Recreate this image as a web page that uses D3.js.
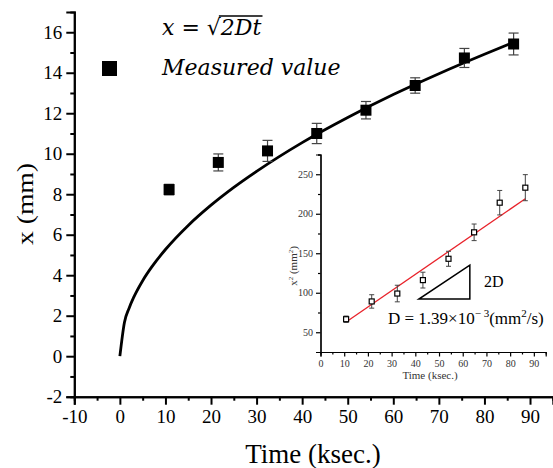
<!DOCTYPE html>
<html>
<head>
<meta charset="utf-8">
<script src="https://cdn.jsdelivr.net/npm/d3@7"></script>
<style>
  body { margin: 0; background: #fff; }
  svg { display: block; }
  .axis path, .axis line { stroke: #000; }
</style>
</head>
<body>
<script>
// measured depth, main plot (ksec, mm)
var times = [10.8, 21.6, 32.4, 43.2, 54.0, 64.8, 75.6, 86.4]
var depth = [8.23, 9.57, 10.14, 11.0, 12.15, 13.37, 14.73, 15.42]
var depthErr = [0.26, 0.42, 0.52, 0.5, 0.43, 0.38, 0.47, 0.54]

// x = sqrt(2Dt) curve
var curveT = [0, 1, 2, 3, 5, 7, 10, 15, 20, 25, 30, 40, 50, 60, 70, 80, 86.4]
var curveX = [0, 1.67, 2.36, 2.89, 3.73, 4.41, 5.27, 6.46, 7.46, 8.34, 9.13, 10.55, 11.79, 12.92, 13.95, 14.91, 15.5]

// inset: x^2 vs time
var sq = [66.5, 89, 99, 116, 143, 176.5, 214, 233]
var sqErr = [4, 8.5, 10.5, 10, 9.5, 10.5, 15.5, 16.5]
var fitT = [10.8, 86.4]
var fitY = [63, 219]
var triT = [41.5, 63, 63]
var triY = [92, 92, 135]

var xTicks = d3.range(-10, 91, 10)
var yTicks = d3.range(-2, 17, 2)
var inXTicks = d3.range(0, 91, 10)
var inYTicks = [50, 100, 150, 200, 250]

var SERIF = "'Liberation Serif'"
var W = 553, H = 468
var svg = d3.select('body').append('svg').attr('width', W).attr('height', H)

var x = d3.scaleLinear().domain([-10, 95]).range([74.3, 552.8])
  , y = d3.scaleLinear().domain([-2, 17]).range([396.7, 12])

function styleAxis(g, w, fs, col){
  g.selectAll('path').attr('stroke-width', w)
  g.selectAll('line').attr('stroke-width', w)
  g.selectAll('text').style('font-family', SERIF).style('font-size', fs + 'px').attr('fill', col)
}

// main axes
var gx = svg.append('g').attr('class', 'axis').attr('transform', 'translate(0,' + y(-2) + ')')
gx.call(d3.axisBottom(x).tickValues(d3.range(-5, 95, 10)).tickSize(4).tickFormat(''))
gx.append('g').call(d3.axisBottom(x).tickValues(xTicks).tickSize(8).tickPadding(5).tickFormat(String))
styleAxis(gx, 2, 19, '#000')

var gy = svg.append('g').attr('class', 'axis').attr('transform', 'translate(' + x(-10) + ',0)')
gy.call(d3.axisLeft(y).tickValues(d3.range(-1, 17, 2)).tickSize(4).tickFormat(''))
gy.append('g').call(d3.axisLeft(y).tickValues(yTicks).tickSize(8).tickPadding(4).tickFormat(String))
styleAxis(gy, 2, 19, '#000')

svg.append('text').attr('x', 313).attr('y', 463).attr('text-anchor', 'middle')
  .style('font-family', SERIF).style('font-size', '27px').text('Time (ksec.)')
svg.append('text').attr('transform', 'translate(33,204) rotate(-90)').attr('text-anchor', 'middle')
  .style('font-family', SERIF).style('font-size', '23px')
  .attr('textLength', 82).attr('lengthAdjust', 'spacingAndGlyphs').text('x (mm)')

// curve
var curvePts = curveT.map(function(t, i){ return [t, curveX[i]] })
svg.append('path').datum(curvePts)
  .attr('fill', 'none').attr('stroke', '#000').attr('stroke-width', 2.8)
  .attr('d', d3.line().x(function(d){ return x(d[0]) }).y(function(d){ return y(d[1]) }).curve(d3.curveMonotoneX))

// measured points
var pts = times.map(function(t, i){ return { t: t, v: depth[i], e: depthErr[i] } })
var eb = svg.append('g').attr('stroke', '#444').attr('stroke-width', 1.2)
eb.selectAll('.v').data(pts).enter().append('line')
  .attr('x1', function(d){ return x(d.t) }).attr('x2', function(d){ return x(d.t) })
  .attr('y1', function(d){ return y(d.v - d.e) }).attr('y2', function(d){ return y(d.v + d.e) })
;[1, -1].forEach(function(s){
  eb.selectAll('.c' + s).data(pts).enter().append('line')
    .attr('x1', function(d){ return x(d.t) - 5 }).attr('x2', function(d){ return x(d.t) + 5 })
    .attr('y1', function(d){ return y(d.v + s * d.e) }).attr('y2', function(d){ return y(d.v + s * d.e) })
})
svg.append('g').selectAll('rect').data(pts).enter().append('rect')
  .attr('x', function(d){ return x(d.t) - 5.5 }).attr('y', function(d){ return y(d.v) - 5.5 })
  .attr('width', 11).attr('height', 11).attr('fill', '#000')

// legend
var lf = "'DejaVu Serif', serif"
var f1 = svg.append('text').attr('x', 162).attr('y', 35).style('font-size', '22px')
  .style('font-style', 'italic').style('font-family', lf)
f1.append('tspan').text('x = √')
var under = f1.append('tspan').text('2Dt')
var bb = under.node().getBBox()
svg.append('line').attr('x1', bb.x - 1).attr('x2', bb.x + bb.width + 1)
  .attr('y1', bb.y + 1).attr('y2', bb.y + 1).attr('stroke', '#000').attr('stroke-width', 1.3)
svg.append('rect').attr('x', 102).attr('y', 61).attr('width', 15).attr('height', 15).attr('fill', '#000')
svg.append('text').attr('x', 162).attr('y', 75).style('font-size', '22px')
  .style('font-style', 'italic').style('font-family', lf).text('Measured value')

// inset
var ix = d3.scaleLinear().domain([0, 95]).range([320.5, 545.7])
  , iy = d3.scaleLinear().domain([25, 275]).range([352, 154.5])

var igx = svg.append('g').attr('class', 'axis').attr('transform', 'translate(0,' + iy(25) + ')')
igx.call(d3.axisBottom(ix).tickValues(d3.range(5, 95, 10)).tickSize(2.5).tickFormat(''))
igx.append('g').call(d3.axisBottom(ix).tickValues(inXTicks).tickSize(4.5).tickPadding(3).tickFormat(String))
styleAxis(igx, 1.2, 10, '#333')

var igy = svg.append('g').attr('class', 'axis').attr('transform', 'translate(' + ix(0) + ',0)')
igy.call(d3.axisLeft(iy).tickValues([75, 125, 175, 225, 275]).tickSize(2.5).tickFormat(''))
igy.append('g').call(d3.axisLeft(iy).tickValues(inYTicks).tickSize(4.5).tickPadding(3).tickFormat(String))
styleAxis(igy, 1.2, 10, '#333')

svg.append('text').attr('x', 430).attr('y', 379).attr('text-anchor', 'middle')
  .style('font-family', SERIF).style('font-size', '11px').attr('fill', '#333').text('Time (ksec.)')
var yl = svg.append('text').attr('transform', 'translate(297,266) rotate(-90)').attr('text-anchor', 'middle')
  .style('font-family', SERIF).style('font-size', '11px').attr('fill', '#333')
yl.append('tspan').text('x')
yl.append('tspan').style('font-size', '7px').attr('dy', -4).text('2')
yl.append('tspan').attr('dy', 4).text(' (mm')
yl.append('tspan').style('font-size', '7px').attr('dy', -4).text('2')
yl.append('tspan').attr('dy', 4).text(')')

// fit line
svg.append('line')
  .attr('x1', ix(fitT[0])).attr('y1', iy(fitY[0])).attr('x2', ix(fitT[1])).attr('y2', iy(fitY[1]))
  .attr('stroke', '#e8222a').attr('stroke-width', 1.3)

var ipts = times.map(function(t, i){ return { t: t, v: sq[i], e: sqErr[i] } })
var ieb = svg.append('g').attr('stroke', '#444').attr('stroke-width', 1)
ieb.selectAll('.v').data(ipts).enter().append('line')
  .attr('x1', function(d){ return ix(d.t) }).attr('x2', function(d){ return ix(d.t) })
  .attr('y1', function(d){ return iy(d.v - d.e) }).attr('y2', function(d){ return iy(d.v + d.e) })
;[1, -1].forEach(function(s){
  ieb.selectAll('.c' + s).data(ipts).enter().append('line')
    .attr('x1', function(d){ return ix(d.t) - 2.5 }).attr('x2', function(d){ return ix(d.t) + 2.5 })
    .attr('y1', function(d){ return iy(d.v + s * d.e) }).attr('y2', function(d){ return iy(d.v + s * d.e) })
})
svg.append('g').selectAll('rect').data(ipts).enter().append('rect')
  .attr('x', function(d){ return ix(d.t) - 2.5 }).attr('y', function(d){ return iy(d.v) - 2.5 })
  .attr('width', 5).attr('height', 5).attr('fill', '#fff').attr('stroke', '#000').attr('stroke-width', 1.2)

// slope triangle
var tri = triT.map(function(t, i){ return [ix(t), iy(triY[i])] })
svg.append('path').attr('d', 'M' + tri.join('L') + 'Z')
  .attr('fill', 'none').attr('stroke', '#000').attr('stroke-width', 1.5)
svg.append('text').attr('x', 484).attr('y', 287).style('font-family', SERIF).style('font-size', '16px').text('2D')

var dl = svg.append('text').attr('x', 388).attr('y', 324).style('font-family', SERIF).style('font-size', '17px')
dl.append('tspan').text('D = 1.39×10')
dl.append('tspan').style('font-size', '11px').attr('dy', -7).text('− 3')
dl.append('tspan').attr('dy', 7).text('(mm')
dl.append('tspan').style('font-size', '11px').attr('dy', -7).text('2')
dl.append('tspan').attr('dy', 7).text('/s)')
</script>
</body>
</html>
